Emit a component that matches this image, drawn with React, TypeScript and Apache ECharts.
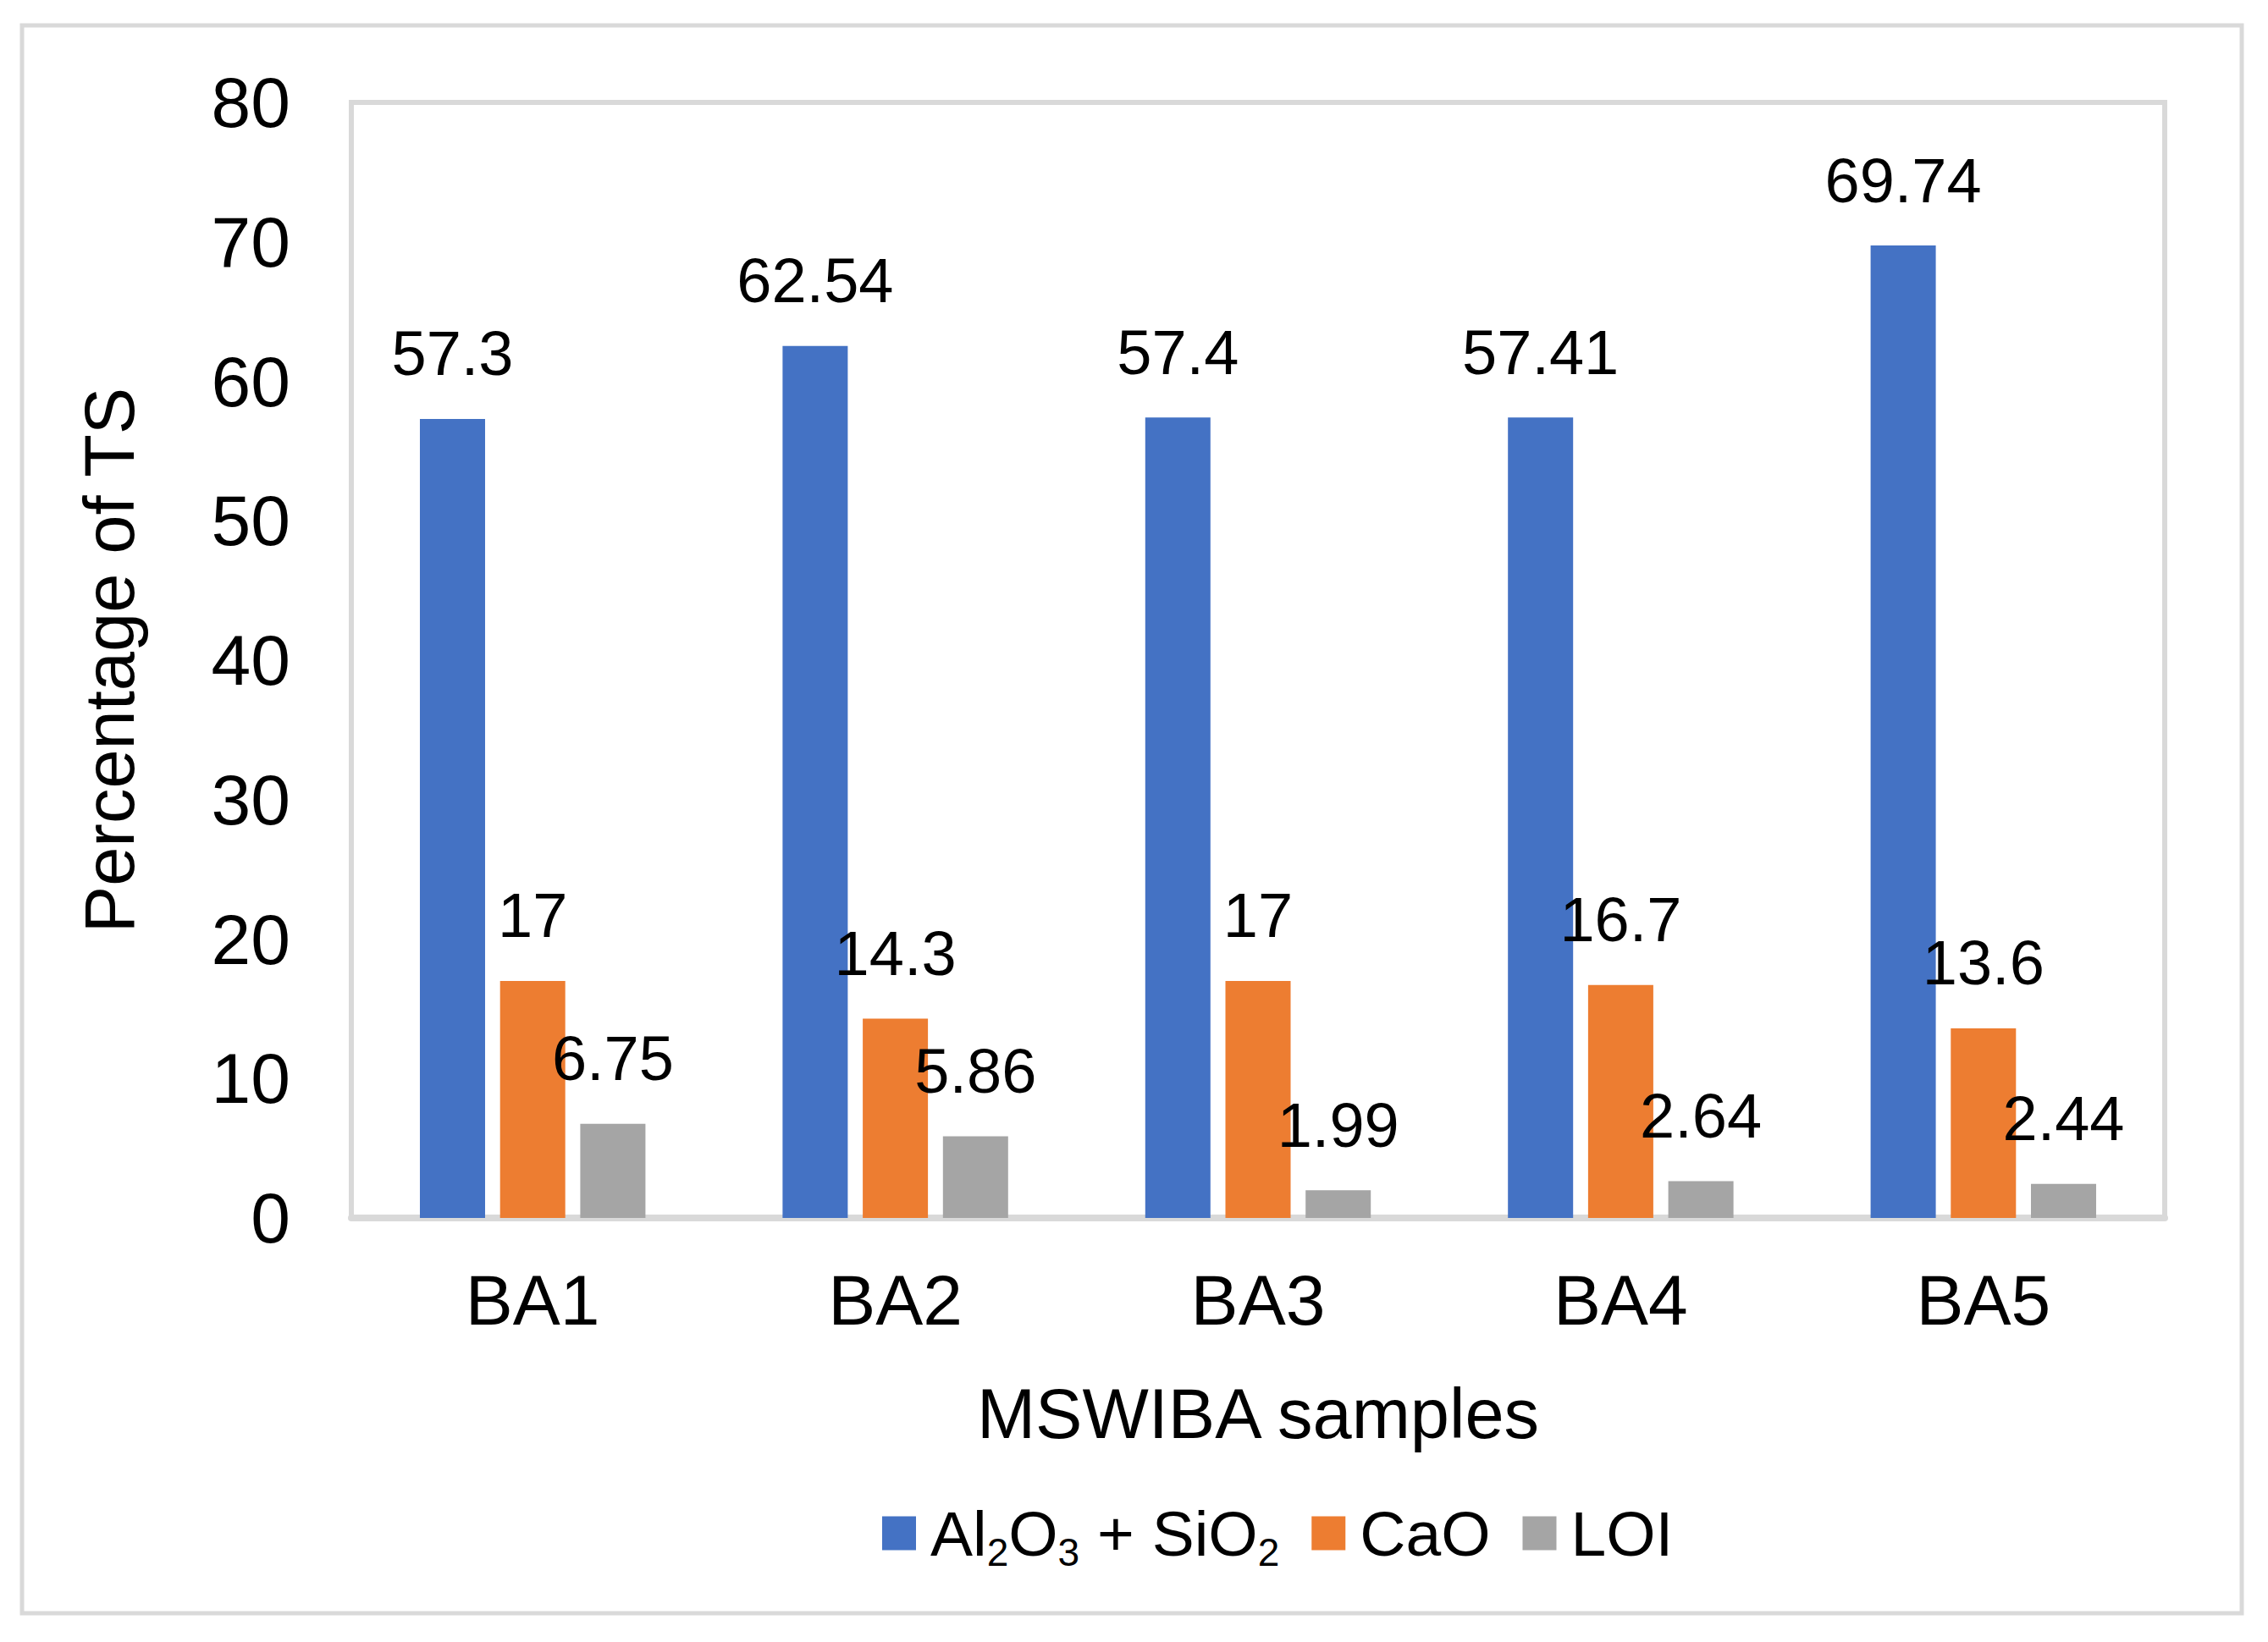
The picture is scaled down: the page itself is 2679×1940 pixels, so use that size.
import React, { useEffect, useRef } from "react";
import * as echarts from "echarts";

const categories = ["BA1", "BA2", "BA3", "BA4", "BA5"];
const seriesNames = ["Al2O3 + SiO2", "CaO", "LOI"];
const oxideValues = [57.3, 62.54, 57.4, 57.41, 69.74];
const caoValues = [17, 14.3, 17, 16.7, 13.6];
const loiValues = [6.75, 5.86, 1.99, 2.64, 2.44];
const seriesColors = ["#4472C4", "#ED7D31", "#A5A5A5"];
const yTicks = { min: 0, max: 80, interval: 10 };

const FONT = "'Liberation Sans', Arial, sans-serif";

export default function App() {
  const ref = useRef<HTMLDivElement>(null);

  useEffect(() => {
    document.body.style.margin = "0";
    if (!ref.current) return;
    const chart = echarts.init(ref.current, undefined, { renderer: "svg" });

    const labelStyle = {
      show: true,
      position: "top",
      distance: 40,
      fontSize: 74,
      fontFamily: FONT,
      color: "#000",
    };

    const dataSets = [oxideValues, caoValues, loiValues];

    chart.setOption({
      animation: false,
      backgroundColor: "#fff",
      textStyle: { fontFamily: FONT },
      graphic: [
        {
          type: "rect",
          shape: { x: 26, y: 30, width: 2622, height: 1876 },
          style: { fill: "none", stroke: "#D9D9D9", lineWidth: 5 },
          z: -10,
        },
      ],
      grid: {
        left: 415,
        right: 122,
        top: 121,
        bottom: 501,
        show: true,
        borderColor: "#D9D9D9",
        borderWidth: 6,
        containLabel: false,
      },
      legend: {
        left: 1042,
        top: 1774,
        padding: 0,
        itemWidth: 40,
        itemHeight: 40,
        itemGap: 38,
        icon: "rect",
        data: seriesNames,
        formatter: (name: string) =>
          name === seriesNames[0]
            ? "{p|Al}{s|2}{m|O}{s|3}{m| + SiO}{s|2}"
            : `{p|${name}}`,
        textStyle: {
          fontSize: 75,
          fontFamily: FONT,
          color: "#000",
          rich: {
            p: { fontSize: 75, fontFamily: FONT, color: "#000", padding: [0, 0, 0, 12] },
            m: { fontSize: 75, fontFamily: FONT, color: "#000" },
            s: { fontSize: 46, fontFamily: FONT, color: "#000", padding: [44, 0, 0, 0] },
          },
        },
      },
      xAxis: {
        type: "category",
        data: categories,
        name: "MSWIBA samples",
        nameLocation: "middle",
        nameGap: 190,
        nameTextStyle: { fontSize: 83, fontFamily: FONT, color: "#000" },
        axisLine: { show: true, lineStyle: { color: "#D9D9D9", width: 8 } },
        axisTick: { show: false },
        axisLabel: { fontSize: 84, fontFamily: FONT, color: "#000", margin: 55 },
        splitLine: { show: false },
      },
      yAxis: {
        type: "value",
        min: yTicks.min,
        max: yTicks.max,
        interval: yTicks.interval,
        name: "Percentage of TS",
        nameLocation: "middle",
        nameGap: 244,
        nameTextStyle: { fontSize: 83, fontFamily: FONT, color: "#000" },
        axisLine: { show: false },
        axisTick: { show: false },
        splitLine: { show: false },
        axisLabel: {
          fontSize: 84,
          fontFamily: FONT,
          color: "#000",
          margin: 72,
          padding: [0, 0, 12, 0],
        },
      },
      series: seriesNames.map((name, i) => ({
        name,
        type: "bar",
        data: dataSets[i],
        barWidth: 77,
        barGap: "23%",
        itemStyle: { color: seriesColors[i] },
        label: labelStyle,
      })),
    });

    return () => chart.dispose();
  }, []);

  return (
    <div
      ref={ref}
      style={{ position: "absolute", left: 0, top: 0, width: 2679, height: 1940 }}
    />
  );
}
